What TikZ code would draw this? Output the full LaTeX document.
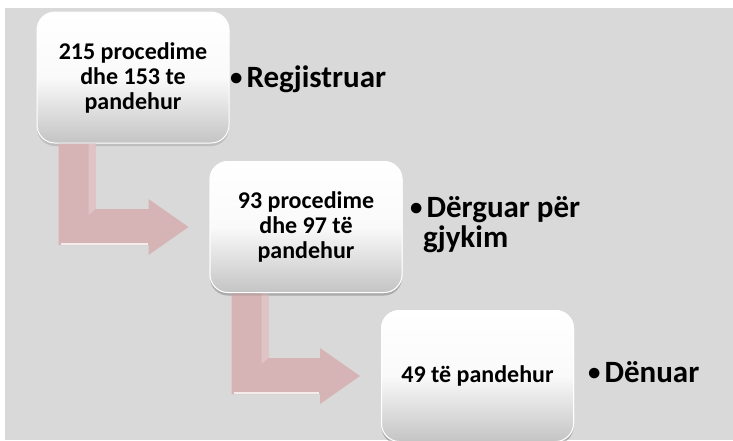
\documentclass[tikz,border=0pt]{standalone}
\usepackage{fontspec}
\setmainfont{Carlito}
\usetikzlibrary{shadows,calc}
\definecolor{bg}{RGB}{217,217,217}
\definecolor{arr}{RGB}{214,180,182}
\definecolor{arrlight}{RGB}{232,205,207}
\definecolor{boxbot}{RGB}{196,196,196}
\tikzset{
  stepbox/.style={rectangle, rounded corners=18pt, minimum width=192pt, minimum height=131pt,
    top color=white, bottom color=boxbot, middle color=white!96!gray,
    draw=white, line width=1pt,
    drop shadow={opacity=0.3, shadow xshift=0pt, shadow yshift=-3pt},
    font=\bfseries\fontsize{24}{25}\selectfont, align=center, inner sep=0pt},
  sidelabel/.style={anchor=base west, font=\bfseries\fontsize{31}{30}\selectfont, inner sep=0pt},
  bendarrow/.style={fill=arr},
  bevel/.style={draw=white, line width=1.2pt, opacity=0.75}
}
\newcommand\bul{\hspace{1pt}\raisebox{1.5pt}{\scalebox{0.8}{•}}\hspace{4pt}}
\newcommand\bendarr[2]{%
  \fill[bendarrow] let \p1=(#1.south west), \p2=(#2.west) in
    (\x1+22pt,\y1) -- (\x1+59pt,\y1) -- (\x1+59pt,\y2+18pt) -- (\x2-61pt,\y2+18pt)
    -- (\x2-61pt,\y2+28pt) -- (\x2-21pt,\y2) -- (\x2-61pt,\y2-28pt) -- (\x2-61pt,\y2-18pt)
    -- (\x1+22pt,\y2-18pt) -- cycle;
  \fill[arrlight, opacity=0.6] let \p1=(#1.south west), \p2=(#2.west) in
    (\x1+52pt,\y1) -- (\x1+59pt,\y1) -- (\x1+59pt,\y2+18pt) -- (\x1+52pt,\y2+12pt) -- cycle;
  \draw[bevel] let \p1=(#1.south west), \p2=(#2.west) in
    (\x1+24pt,\y2-17pt) -- (\x2-62pt,\y2-17pt);
}
\begin{document}
\begin{tikzpicture}[x=1pt,y=-1pt]
\useasboundingbox (0,0) rectangle (733,440);
\fill[white] (0,0) rectangle (733,440);
\fill[bg] (5,8) rectangle (733,440);

\node[stepbox] (b1) at (133,77.5) {215 procedime\\dhe 153 te\\pandehur};
\node[stepbox] (b2) at (306,227) {93 procedime\\dhe 97 të\\pandehur};
\node[stepbox] (b3) at (477.5,376) {49 të pandehur};

\bendarr{b1}{b2}
\bendarr{b2}{b3}

% boxes drawn again over the arrow tails
\node[stepbox] at (b2) {93 procedime\\dhe 97 të\\pandehur};
\node[stepbox] at (b3) {49 të pandehur};

\node[sidelabel] (l1) at (229,87) {\bul Regjistruar};
\node[sidelabel] (l2) at (409,217) {\bul Dërguar për};
\node[sidelabel] (l2b) at (423,247) {gjykim};
\node[sidelabel] (l3) at (587,382) {\bul Dënuar};
\end{tikzpicture}
\end{document}
